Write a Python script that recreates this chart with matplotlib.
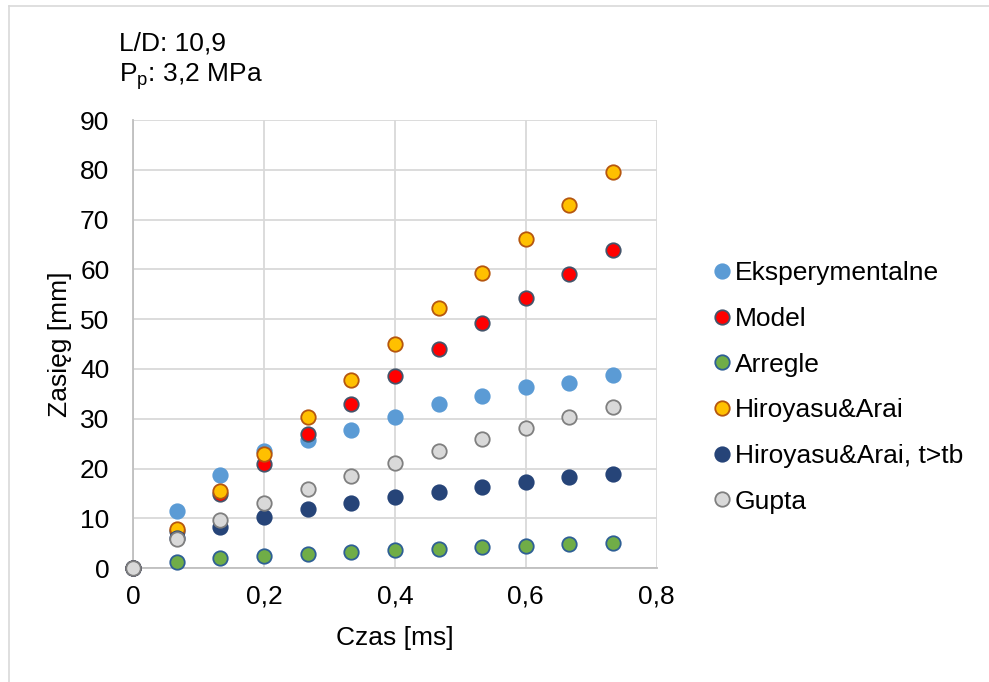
import numpy as np
import matplotlib
matplotlib.use("Agg")
import matplotlib.pyplot as plt
from matplotlib.ticker import FuncFormatter, MultipleLocator
from matplotlib.lines import Line2D

plt.rcParams['font.family'] = ['Liberation Sans', 'DejaVu Sans']

czas = [0, 0.0667, 0.1333, 0.2, 0.2667, 0.3333, 0.4, 0.4667, 0.5333, 0.6, 0.6667, 0.7333]
eksperymentalne = [0, 11.4, 18.7, 23.6, 25.7, 27.7, 30.4, 32.9, 34.6, 36.4, 37.2, 38.8]
model = [0, 7.5, 14.8, 21.0, 27.0, 33.0, 38.5, 44.0, 49.2, 54.2, 59.1, 63.9]
arregle = [0, 1.3, 2.0, 2.5, 2.9, 3.2, 3.6, 3.9, 4.2, 4.5, 4.8, 5.0]
hiroyasu = [0, 7.8, 15.4, 23.0, 30.4, 37.7, 45.0, 52.2, 59.2, 66.1, 72.9, 79.6]
hiroyasu_tb = [0, 6.0, 8.3, 10.2, 11.8, 13.0, 14.3, 15.3, 16.3, 17.3, 18.2, 19.0]
gupta = [0, 5.8, 9.7, 13.0, 15.9, 18.6, 21.2, 23.6, 26.0, 28.2, 30.3, 32.3]

series = [
    ("Eksperymentalne", eksperymentalne, '#5B9BD5', '#5B9BD5'),
    ("Model", model, '#FF0000', '#44546A'),
    ("Arregle", arregle, '#70AD47', '#2E5F95'),
    ("Hiroyasu&Arai", hiroyasu, '#FFC000', '#B5560F'),
    ("Hiroyasu&Arai, t>tb", hiroyasu_tb, '#264478', '#264478'),
    ("Gupta", gupta, '#D9D9D9', '#7F7F7F'),
]

fs = 19

fig = plt.figure(figsize=(9.89, 6.82), dpi=100)
# chart-area border (left and top visible)
fig.lines.append(Line2D([9/989, 9/989], [0, 1 - 5.5/682], transform=fig.transFigure,
                        color='#D9D9D9', linewidth=1.2))
fig.lines.append(Line2D([9/989, 1], [1 - 5.5/682, 1 - 5.5/682], transform=fig.transFigure,
                        color='#D9D9D9', linewidth=1.2))

ax = fig.add_axes([0.1345, 0.167, 0.5295, 0.657])

for name, vals, fc, ec in series:
    ax.plot(czas, vals, linestyle='none', marker='o', markersize=10.4,
            markerfacecolor=fc, markeredgecolor=ec, markeredgewidth=1.3,
            label=name, clip_on=False, zorder=3)

ax.set_xlim(0, 0.8)
ax.set_ylim(0, 90)
ax.xaxis.set_major_locator(MultipleLocator(0.2))
ax.yaxis.set_major_locator(MultipleLocator(10))
fmt = FuncFormatter(lambda v, p: ('%g' % round(v, 2)).replace('.', ','))
ax.xaxis.set_major_formatter(fmt)
ax.grid(True, color='#D9D9D9', linewidth=1.3, zorder=0)
ax.set_axisbelow(True)
for s in ['top', 'right']:
    ax.spines[s].set_visible(False)
for s in ['left', 'bottom']:
    ax.spines[s].set_color('#BFBFBF')
    ax.spines[s].set_linewidth(1.3)
ax.tick_params(axis='x', length=0, labelsize=fs, pad=12, colors='black')
ax.tick_params(axis='y', length=0, labelsize=fs, pad=17, colors='black')

ax.set_xlabel('Czas [ms]', fontsize=fs, va='center')
ax.xaxis.set_label_coords(0.5, -0.156)
ax.set_ylabel('Zasięg [mm]', fontsize=fs, va='center')
ax.yaxis.set_label_coords(-0.139, 0.5)

fig.text(0.12, 1 - 50/682, 'L/D: 10,9', fontsize=fs, va='baseline')
fig.text(0.12, 1 - 81/682, r'P$_\mathregular{p}$: 3,2 MPa', fontsize=fs, va='baseline')

ax.legend(loc='center left', bbox_to_anchor=(714/989, 1 - 387.5/682), bbox_transform=fig.transFigure,
          frameon=False, fontsize=fs, handletextpad=0.19, labelspacing=0.82,
          handlelength=0.6, borderpad=0, borderaxespad=0, markerscale=1.0)

plt.savefig('out.png', dpi=100)
